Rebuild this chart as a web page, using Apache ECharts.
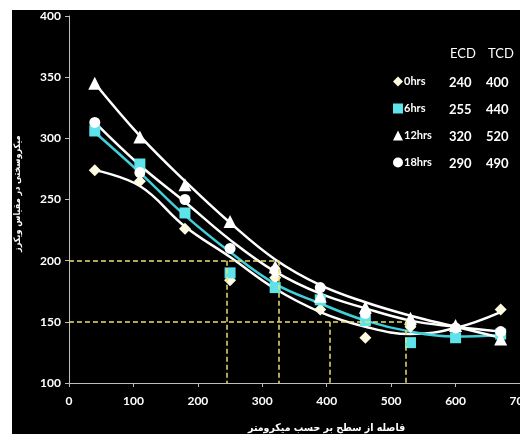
<!DOCTYPE html>
<html>
<head>
<meta charset="utf-8">
<title>microhardness</title>
<script src="https://cdn.jsdelivr.net/npm/echarts/dist/echarts.min.js"></script>
<style>
  html, body {
    margin: 0;
    padding: 0;
    background: #fff;
  }
  #chart {
    position: absolute;
    left: 12px;
    top: 10px;
    width: 508px;
    height: 424px;
    background: #000;
  }
</style>
</head>
<body>
<div id="chart"></div>
<script>
// distance from surface (micrometre)
var distance = [40, 110, 180, 250, 320, 390, 460, 530, 600, 670]

var hrs0 = [274, 265, 226, 184, 186, 160, 137, 146, 144, 160]
var hrs6 = [306, 279, 239, 190, 178, 168, 151, 133, 137, 140]
var hrs12 = [345, 301, 262, 232, 195, 171, 162, 153, 147, 136]
var hrs18 = [313, 272, 250, 210, 192, 178, 157, 148, 145, 142]

// trend curves as they appear in the picture
var trend0 = [274, 261, 228, 203, 177, 158, 146, 140, 145, 158]
var trend6 = [305, 272, 237, 207, 181, 165, 151, 142, 138, 139]
var trend12 = [345, 302, 265, 231, 201, 180, 166, 155, 146, 137]
var trend18 = [313, 278, 248, 217, 191, 173, 161, 151, 146, 142]

var seriesNames = ['0hrs', '6hrs', '12hrs', '18hrs']
var ecd = [240, 255, 320, 290]
var tcd = [400, 440, 520, 490]

// yellow guide lines
var guideLevels = [200, 150]
var guideCuts = [[245, 325], [405, 522]]

var yTicks = [100, 150, 200, 250, 300, 350, 400]
var xTicks = [0, 100, 200, 300, 400, 500, 600, 700]

var xTitle = 'فاصله از سطح بر حسب میکرومتر'
var yTitle = 'میکروسختی در مقیاس ویکرز'

function pairs(ys) {
  return distance.map(function(x, i) {
    return [x, ys[i]]
  })
}

var white = '#ffffff'
var cream = '#fffbe3'
var cyan = '#5fe3ea'
var cyanLine = '#3fd0da'
var yellow = '#e9e16f'
var font = 'Lato, "Open Sans", sans-serif'
var arabicFont = '"DejaVu Sans Condensed", "DejaVu Sans", sans-serif'

var guideData = []
guideLevels.forEach(function(level, k) {
  var cuts = guideCuts[k]
  guideData.push([{ coord: [0, level] }, { coord: [cuts[cuts.length - 1], level] }])
  cuts.forEach(function(c) {
    guideData.push([{ coord: [c, level] }, { coord: [c, yTicks[0]] }])
  })
})

var markers = [
  { name: seriesNames[0], data: hrs0, symbol: 'diamond', size: 12, color: cream },
  { name: seriesNames[1], data: hrs6, symbol: 'rect', size: 11, color: cyan },
  { name: seriesNames[2], data: hrs12, symbol: 'triangle', size: 13, color: white },
  { name: seriesNames[3], data: hrs18, symbol: 'circle', size: 11, color: white }
]
var trends = [
  { data: trend0, color: white },
  { data: trend6, color: cyanLine },
  { data: trend12, color: white },
  { data: trend18, color: white }
]

var series = []
series.push({
  name: 'guides',
  type: 'line',
  data: [],
  silent: true,
  z: 1,
  markLine: {
    silent: true,
    symbol: 'none',
    label: { show: false },
    lineStyle: { color: yellow, type: [5, 3], width: 1.5, opacity: 1 },
    data: guideData
  }
})
trends.forEach(function(t) {
  series.push({
    type: 'line',
    data: pairs(t.data),
    smooth: 0.4,
    showSymbol: false,
    silent: true,
    z: 2,
    lineStyle: { color: t.color, width: 2.5 }
  })
})
markers.forEach(function(m) {
  series.push({
    name: m.name,
    type: 'scatter',
    data: pairs(m.data),
    symbol: m.symbol,
    symbolSize: m.size,
    z: 3,
    itemStyle: { color: m.color, opacity: 1 }
  })
})

// ECD / TCD table next to the legend, plus the two axis titles
var rowTop = 74
var rowGap = 27
var graphics = [
  { type: 'text', left: 438, top: 37, style: { text: 'ECD', fill: white, font: '13px ' + font } },
  { type: 'text', left: 476, top: 37, style: { text: 'TCD', fill: white, font: '13px ' + font } },
  {
    type: 'text', x: 236, y: 418,
    style: { text: xTitle, fill: white, font: 'bold 10.5px ' + arabicFont, textAlign: 'left', textVerticalAlign: 'middle' }
  },
  {
    // rotated a quarter turn, text runs upward from its bottom end
    type: 'text', x: 6, y: 242, rotation: Math.PI / 2,
    style: { text: yTitle, fill: white, font: 'bold 9px ' + arabicFont, textAlign: 'left', textVerticalAlign: 'middle' }
  }
]
ecd.forEach(function(v, i) {
  graphics.push({ type: 'text', left: 437, top: rowTop + i * rowGap - 8, style: { text: String(v), fill: white, font: 'bold 13px ' + font } })
  graphics.push({ type: 'text', left: 474, top: rowTop + i * rowGap - 8, style: { text: String(tcd[i]), fill: white, font: 'bold 13px ' + font } })
})

var chart = echarts.init(document.getElementById('chart'))
chart.setOption({
  backgroundColor: '#000',
  animation: false,
  grid: { left: 57, top: 6, right: 0, bottom: 51, containLabel: false, outerBoundsMode: 'none' },
  legend: {
    orient: 'vertical',
    left: 381,
    top: 66,
    padding: 0,
    itemWidth: 10,
    itemHeight: 10,
    itemGap: 16,
    data: seriesNames,
    textStyle: { color: white, fontSize: 11, fontWeight: 'bold', fontFamily: font, padding: [0, 0, 0, -4] }
  },
  graphic: graphics,
  xAxis: {
    type: 'value',
    min: xTicks[0],
    max: xTicks[xTicks.length - 1],
    interval: 100,
    axisLine: { show: true, lineStyle: { color: '#bdbdbd', width: 1 } },
    axisTick: { show: true, length: 4, lineStyle: { color: '#bdbdbd' } },
    axisLabel: { color: white, fontSize: 12, fontWeight: 'bold', fontFamily: font, margin: 12 },
    splitLine: { show: false }
  },
  yAxis: {
    type: 'value',
    min: yTicks[0],
    max: yTicks[yTicks.length - 1],
    interval: 50,
    axisLine: { show: true, lineStyle: { color: '#bdbdbd', width: 1 } },
    axisTick: { show: true, length: 4, lineStyle: { color: '#bdbdbd' } },
    axisLabel: { color: white, fontSize: 12, fontWeight: 'bold', fontFamily: font, margin: 8 },
    splitLine: { show: false }
  },
  series: series
})
</script>
</body>
</html>
